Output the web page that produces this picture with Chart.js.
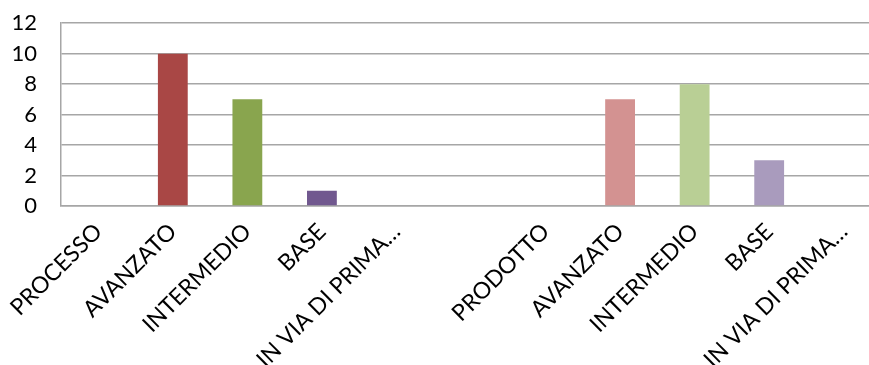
<!DOCTYPE html>
<html>
<head>
<meta charset="utf-8">
<script src="https://cdn.jsdelivr.net/npm/chart.js@4"></script>
<style>
  html, body { margin: 0; padding: 0; background: #fff; overflow: hidden; }
  #wrap { width: 881px; height: 365px; overflow: hidden; }
  #c { display: block; margin-top: -14px; }
</style>
</head>
<body>
<div id="wrap"><canvas id="c" width="881" height="379"></canvas></div>
<script>
// Categories: two groups (process / product) separated by an empty slot
const categories = [
  'PROCESSO', 'AVANZATO', 'INTERMEDIO', 'BASE', 'IN VIA DI PRIMA…',
  '',
  'PRODOTTO', 'AVANZATO', 'INTERMEDIO', 'BASE', 'IN VIA DI PRIMA…'
];
const counts = [0, 10, 7, 1, 0, null, 0, 7, 8, 3, 0];
const barColors = [
  '#a94745', '#a94745', '#89a54e', '#71588f', '#71588f',
  '#ffffff',
  '#d39291', '#d39291', '#b9cf95', '#a99bbd', '#a99bbd'
];
const yTicks = [0, 2, 4, 6, 8, 10, 12];

new Chart(document.getElementById('c'), {
  type: 'bar',
  data: {
    labels: categories,
    datasets: [{
      data: counts,
      backgroundColor: barColors,
      borderWidth: 0,
      barPercentage: 0.4,
      categoryPercentage: 1.0
    }]
  },
  options: {
    responsive: false,
    animation: false,
    layout: { padding: { top: 0, right: 0, bottom: 0, left: 0 } },
    plugins: { legend: { display: false }, tooltip: { enabled: false } },
    scales: {
      x: {
        grid: { display: false },
        border: { display: true, color: '#a6a6a6', width: 1.5 },
        ticks: {
          color: '#000',
          font: { family: 'Lato', size: 23 },
          minRotation: 45,
          maxRotation: 45,
          autoSkip: false,
          padding: 4
        },
        afterFit(scale) { scale.height = 159; }
      },
      y: {
        min: 0,
        max: 12,
        afterBuildTicks(scale) { scale.ticks = yTicks.map(v => ({ value: v })); },
        grid: { color: '#a6a6a6', lineWidth: 1.5, drawTicks: false },
        border: { display: true, color: '#a6a6a6', width: 1.5 },
        ticks: {
          color: '#000',
          font: { family: 'Lato', size: 22 },
          autoSkip: false,
          padding: 24
        },
        afterFit(scale) { scale.width = 61; }
      }
    }
  }
});
</script>
</body>
</html>
